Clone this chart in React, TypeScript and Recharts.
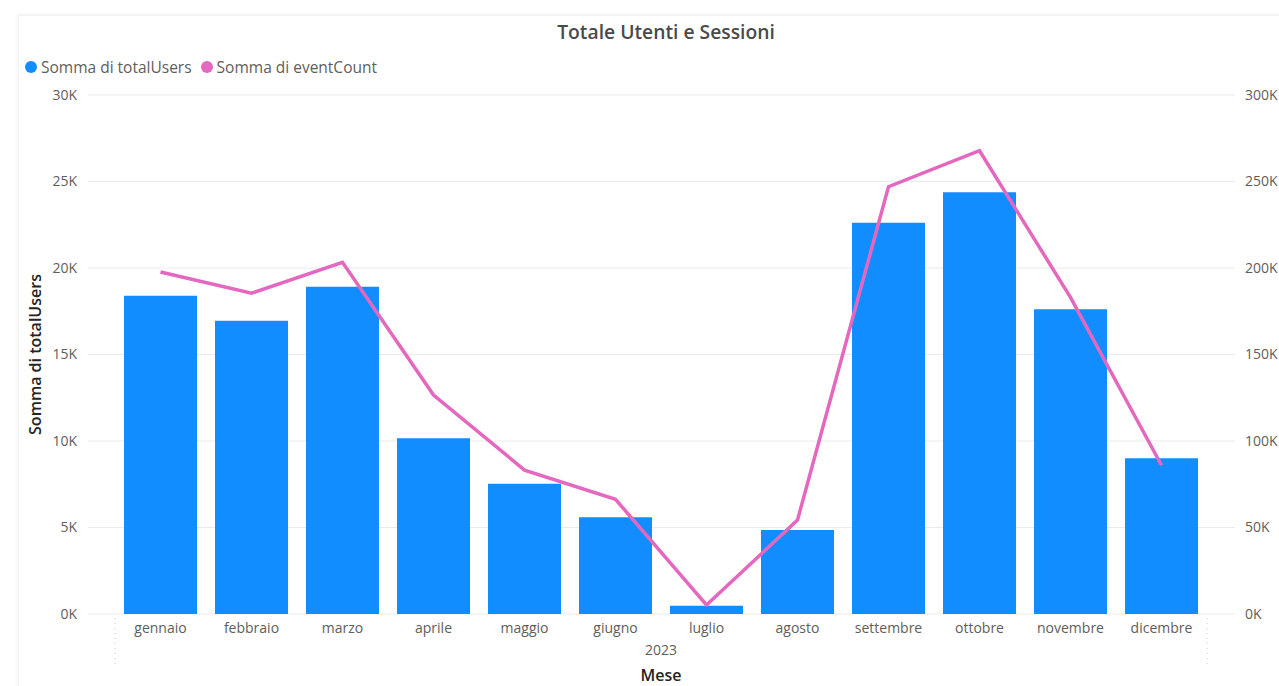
import React from 'react';
import { ComposedChart, Bar, Line, XAxis, YAxis, CartesianGrid } from 'recharts';

const months = [
  'gennaio', 'febbraio', 'marzo', 'aprile', 'maggio', 'giugno',
  'luglio', 'agosto', 'settembre', 'ottobre', 'novembre', 'dicembre',
];
const totalUsers = [18400, 16950, 18920, 10160, 7530, 5590, 480, 4860, 22620, 24380, 17610, 9000];
const eventCount = [197700, 185400, 203300, 126600, 83200, 66300, 5200, 54300, 247000, 267800, 183000, 86000];
const leftTicks = [0, 5000, 10000, 15000, 20000, 25000, 30000];
const rightTicks = [0, 50000, 100000, 150000, 200000, 250000, 300000];
const yearLabel = '2023';

const BLUE = '#118DFF';
const PINK = '#E467C0';
const FONT = '"Open Sans", "Noto Sans", sans-serif';
const PAD = { left: 27, right: 28 };

const data = months.map((m, i) => ({ month: m, users: totalUsers[i], events: eventCount[i] }));

const fmtK = (v: number) => `${Math.round(v / 1000)}K`;

// "2023" under the months, the dotted group separators and the "Mese" axis title
const XAxisTitle = (props: any) => {
  const vb = props.viewBox || {};
  const x0 = vb.x + PAD.left;
  const x1 = vb.x + vb.width - PAD.right;
  const cx = (x0 + x1) / 2;
  const y = vb.y;
  return (
    <g>
      <line x1={x0} x2={x0} y1={y + 4} y2={y + 50} stroke="#C8C8C8" strokeDasharray="1 4" />
      <line x1={x1} x2={x1} y1={y + 4} y2={y + 50} stroke="#C8C8C8" strokeDasharray="1 4" />
      <text x={cx} y={y + 41} textAnchor="middle" fill="#605E5C" fontSize={14} fontFamily={FONT}>
        {yearLabel}
      </text>
      <text x={cx} y={y + 67} textAnchor="middle" fill="#252423" fontSize={16} fontWeight={600} fontFamily={FONT}>
        Mese
      </text>
    </g>
  );
};

const YAxisTitle = (props: any) => {
  const vb = props.viewBox || {};
  const cx = vb.x + 35;
  const cy = vb.y + vb.height / 2;
  return (
    <text
      x={cx}
      y={cy}
      transform={`rotate(-90 ${cx} ${cy})`}
      textAnchor="middle"
      dominantBaseline="central"
      fill="#252423"
      fontSize={16}
      fontWeight={600}
      fontFamily={FONT}
    >
      Somma di totalUsers
    </text>
  );
};

const legendItems = [
  { label: 'Somma di totalUsers', color: BLUE },
  { label: 'Somma di eventCount', color: PINK },
];

export default function App() {
  const tickStyle = { fill: '#605E5C', fontSize: 14, fontFamily: FONT };
  return (
    <div style={{ position: 'absolute', left: 0, top: 0, width: 1279, height: 686, background: '#fff', overflow: 'hidden' }}>
      <div
        style={{
          position: 'absolute', left: 18, top: 15, width: 1300, height: 700,
          boxShadow: '0 0 4px rgba(0,0,0,0.08)', border: '1px solid #F3F3F3', background: '#fff',
        }}
      />
      <div
        style={{
          position: 'absolute', left: 0, width: 1332, top: 18, textAlign: 'center',
          fontFamily: FONT, fontSize: 19.3, fontWeight: 600, color: '#4A4A4A',
        }}
      >
        Totale Utenti e Sessioni
      </div>
      <div
        style={{
          position: 'absolute', left: 25, top: 56, display: 'flex', alignItems: 'center',
          fontFamily: FONT, fontSize: 15.5, color: '#605E5C', whiteSpace: 'nowrap',
        }}
      >
        {legendItems.map((it) => (
          <span key={it.label} style={{ display: 'flex', alignItems: 'center', marginRight: 9 }}>
            <span style={{ width: 12, height: 12, borderRadius: 6, background: it.color, marginRight: 4 }} />
            {it.label}
          </span>
        ))}
      </div>
      <div style={{ position: 'absolute', left: 0, top: 0 }}>
        <ComposedChart width={1279} height={686} data={data} margin={{ top: 95, right: 0, bottom: 0, left: 0 }}>
          <CartesianGrid vertical={false} stroke="#EBEBEB" yAxisId="left" />
          <XAxis
            dataKey="month"
            height={72}
            padding={PAD}
            axisLine={false}
            tickLine={false}
            tickSize={0}
            tickMargin={9}
            interval={0}
            tick={tickStyle}
            label={<XAxisTitle />}
          />
          <YAxis
            yAxisId="left"
            width={88}
            domain={[0, 30000]}
            ticks={leftTicks}
            tickFormatter={fmtK}
            axisLine={false}
            tickLine={false}
            tickSize={0}
            tickMargin={11}
            tick={tickStyle}
            label={<YAxisTitle />}
          />
          <YAxis
            yAxisId="right"
            orientation="right"
            width={44}
            domain={[0, 300000]}
            ticks={rightTicks}
            tickFormatter={fmtK}
            axisLine={false}
            tickLine={false}
            tickSize={0}
            tickMargin={10}
            tick={{ ...tickStyle, textAnchor: 'start' }}
          />
          <Bar yAxisId="left" dataKey="users" fill={BLUE} barSize={73} isAnimationActive={false} />
          <Line
            yAxisId="right"
            type="linear"
            dataKey="events"
            stroke={PINK}
            strokeWidth={3.5}
            dot={false}
            activeDot={false}
            isAnimationActive={false}
          />
        </ComposedChart>
      </div>
    </div>
  );
}
